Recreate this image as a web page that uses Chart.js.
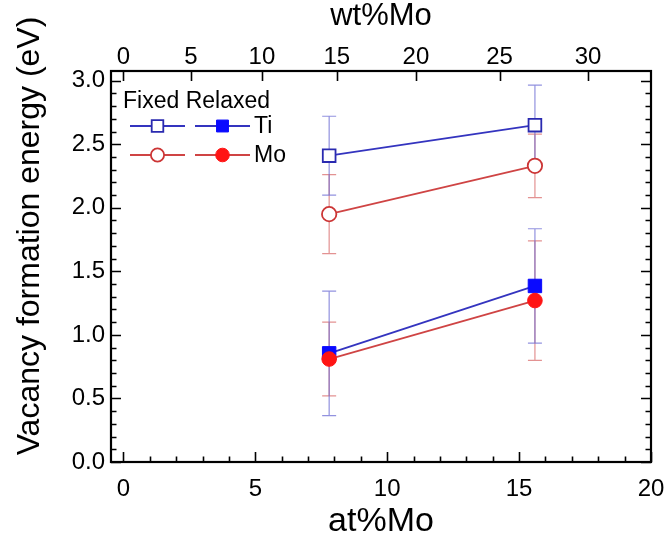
<!DOCTYPE html>
<html><head><meta charset="utf-8">
<script src="https://cdn.jsdelivr.net/npm/chart.js@4/dist/chart.umd.min.js"></script>
<style>html,body{margin:0;padding:0;background:#fff;overflow:hidden}</style>
</head><body>
<canvas id="c" width="666" height="537" style="width:666px;height:537px;display:block"></canvas>
<script>
// ---- data ----
const AT_MO = [7.8, 15.6];
const TI_FIXED = [2.41, 2.65];
const TI_FIXED_ERR = [0.31, 0.315];
const MO_FIXED = [1.95, 2.33];
const MO_FIXED_ERR = [0.31, 0.25];
const TI_RELAXED = [0.855, 1.385];
const TI_RELAXED_ERR = [0.49, 0.45];
const MO_RELAXED = [0.81, 1.27];
const MO_RELAXED_ERR = [0.29, 0.47];
// ---- tick labels ----
const AT_TICKS = [0, 5, 10, 15, 20];
const WT_TICKS = [0, 5, 10, 15, 20, 25, 30];
const Y_TICKS = [0.0, 0.5, 1.0, 1.5, 2.0, 2.5, 3.0];
const Y_TITLE = 'Vacancy formation energy (eV)';
// atomic masses for the wt% <-> at% relation of the top axis
const M_MO = 95.95, M_TI = 47.867;
function wtToAt(w){ const f = w/100; return 100*(f/M_MO)/(f/M_MO + (1-f)/M_TI); }

const F = "'Liberation Sans', Arial, sans-serif";
const BLUE_LINE = '#3434bf', RED_LINE = '#cf4444';
const BLUE_ERR = 'rgba(100,100,210,0.7)', RED_ERR = 'rgba(215,100,100,0.7)';

function pts(ys){ return AT_MO.map((x,i)=>({x:x, y:ys[i]})); }

const datasets = [
  {label:'Mo relaxed', data:pts(MO_RELAXED), err:MO_RELAXED_ERR, errColor:RED_ERR, borderColor:RED_LINE, borderWidth:1.8,
   pointStyle:'circle', pointRadius:7.3, pointBackgroundColor:'#ff1414', pointBorderColor:'#ff1414', pointBorderWidth:1},
  {label:'Ti relaxed', data:pts(TI_RELAXED), err:TI_RELAXED_ERR, errColor:BLUE_ERR, borderColor:BLUE_LINE, borderWidth:1.8,
   pointStyle:'rect', pointRadius:9.5, pointBackgroundColor:'#0a0aff', pointBorderColor:'#0a0aff', pointBorderWidth:1},
  {label:'Mo fixed', data:pts(MO_FIXED), err:MO_FIXED_ERR, errColor:RED_ERR, borderColor:RED_LINE, borderWidth:1.8,
   pointStyle:'circle', pointRadius:7.2, pointBackgroundColor:'#ffffff', pointBorderColor:'#cc3535', pointBorderWidth:1.8},
  {label:'Ti fixed', data:pts(TI_FIXED), err:TI_FIXED_ERR, errColor:BLUE_ERR, borderColor:BLUE_LINE, borderWidth:1.8,
   pointStyle:'rect', pointRadius:9.0, pointBackgroundColor:'#ffffff', pointBorderColor:'#2a2ab0', pointBorderWidth:1.8}
];

const errorBars = {
  id:'errorBars',
  beforeDatasetsDraw(chart){
    const {ctx, scales:{x, y}} = chart;
    ctx.save();
    ctx.lineWidth = 1.2;
    const order = [0,2,1,3]; // red first, blue on top
    order.forEach(di=>{
      const ds = chart.data.datasets[di];
      ctx.strokeStyle = ds.errColor;
      ds.data.forEach((p,i)=>{
        const px = x.getPixelForValue(p.x);
        const y1 = y.getPixelForValue(p.y + ds.err[i]);
        const y2 = y.getPixelForValue(p.y - ds.err[i]);
        ctx.beginPath();
        ctx.moveTo(px, y1); ctx.lineTo(px, y2);
        ctx.moveTo(px-7, y1); ctx.lineTo(px+7, y1);
        ctx.moveTo(px-7, y2); ctx.lineTo(px+7, y2);
        ctx.stroke();
      });
    });
    ctx.restore();
  }
};

const inwardTicks = {
  id:'inwardTicks',
  afterDraw(chart){
    const {ctx, chartArea:a, scales:{x, x2, y}} = chart;
    ctx.save();
    ctx.strokeStyle = '#000';
    ctx.lineWidth = 1.6;
    ctx.beginPath();
    for (let k = 0; k <= 30; k++){
      const py = Math.round(y.getPixelForValue(k/10)) + 0.5;
      const L = (k % 5 === 0) ? 10 : 5.5;
      ctx.moveTo(a.left, py); ctx.lineTo(a.left + L, py);
      ctx.moveTo(a.right, py); ctx.lineTo(a.right - L, py);
    }
    for (let k = 0; k <= 20; k++){
      const px = Math.round(x.getPixelForValue(k)) + 0.5;
      const L = (k % 5 === 0) ? 10 : 5.5;
      ctx.moveTo(px, a.bottom); ctx.lineTo(px, a.bottom - L);
    }
    x2.ticks.forEach(t=>{
      const px = Math.round(x2.getPixelForValue(t.value)) + 0.5;
      ctx.moveTo(px, a.top); ctx.lineTo(px, a.top + 10);
    });
    ctx.stroke();
    ctx.lineWidth = 2.2;
    ctx.strokeRect(a.left, a.top, a.right - a.left, a.bottom - a.top);
    ctx.restore();
  }
};

const yTitle = {
  id:'yTitle',
  afterDraw(chart){
    const {ctx} = chart;
    ctx.save();
    ctx.translate(30, 236);
    ctx.rotate(-Math.PI/2);
    ctx.fillStyle = '#000';
    ctx.font = "32px " + F;
    ctx.textAlign = 'center';
    ctx.textBaseline = 'middle';
    ctx.fillText(Y_TITLE, 0, 0);
    ctx.restore();
  }
};

const legendBox = {
  id:'legendBox',
  afterDraw(chart){
    const {ctx} = chart;
    const H = Chart.helpers;
    ctx.save();
    ctx.fillStyle = '#000';
    ctx.font = "23px " + F;
    ctx.textBaseline = 'middle';
    ctx.textAlign = 'left';
    ctx.fillText('Fixed Relaxed', 123, 102);
    const rows = [
      {y:126, color:BLUE_LINE, open:{pointStyle:'rect', radius:8.2, edge:'#2a2ab0'}, fill:{pointStyle:'rect', radius:8.4, c:'#0a0aff'}, text:'Ti'},
      {y:155, color:RED_LINE, open:{pointStyle:'circle', radius:6.6, edge:'#cc3535'}, fill:{pointStyle:'circle', radius:6.8, c:'#ff1414'}, text:'Mo'}
    ];
    rows.forEach(r=>{
      ctx.strokeStyle = r.color; ctx.lineWidth = 1.8;
      ctx.beginPath();
      ctx.moveTo(130, r.y); ctx.lineTo(185, r.y);
      ctx.moveTo(195, r.y); ctx.lineTo(250, r.y);
      ctx.stroke();
      ctx.fillStyle = '#fff'; ctx.strokeStyle = r.open.edge; ctx.lineWidth = 1.8;
      H.drawPoint(ctx, {pointStyle:r.open.pointStyle, radius:r.open.radius, rotation:0, borderWidth:1.8}, 157.5, r.y);
      ctx.fillStyle = r.fill.c; ctx.strokeStyle = r.fill.c; ctx.lineWidth = 1;
      H.drawPoint(ctx, {pointStyle:r.fill.pointStyle, radius:r.fill.radius, rotation:0, borderWidth:1}, 222.5, r.y);
      ctx.fillStyle = '#000';
      ctx.fillText(r.text, 254, r.y + 1);
    });
    ctx.restore();
  }
};

const X_MIN = -0.47, X_MAX = 20, Y_MIN = 0, Y_MAX = 3.076;
function noPad(s){ s.paddingLeft = 0; s.paddingRight = 0; s.paddingTop = 0; s.paddingBottom = 0; }

new Chart(document.getElementById('c'), {
  type:'line',
  data:{datasets:datasets},
  options:{
    responsive:false, animation:false, devicePixelRatio:1,
    layout:{autoPadding:false, padding:0},
    plugins:{legend:{display:false}, tooltip:{enabled:false}},
    elements:{line:{tension:0, fill:false}},
    scales:{
      x:{type:'linear', position:'bottom', min:X_MIN, max:X_MAX,
        afterBuildTicks:s=>{ s.ticks = AT_TICKS.map(v=>({value:v})); },
        ticks:{callback:(v)=>String(v), font:{size:24, family:F}, color:'#000', padding:13, maxRotation:0, autoSkip:false},
        grid:{display:false, drawTicks:false}, border:{display:false},
        title:{display:true, text:'at%Mo', color:'#000', font:{size:34, family:F, lineHeight:1}, padding:{top:0,bottom:-2}},
        afterFit:s=>{ s.height = 75; noPad(s); }},
      x2:{type:'linear', position:'top', min:X_MIN, max:X_MAX,
        afterBuildTicks:s=>{ s.ticks = WT_TICKS.map(w=>({value:wtToAt(w)})); },
        ticks:{callback:(v,i)=>String(WT_TICKS[i]), font:{size:24, family:F}, color:'#000', padding:-1, maxRotation:0, autoSkip:false},
        grid:{display:false, drawTicks:false}, border:{display:false},
        title:{display:true, text:'wt%Mo', color:'#000', font:{size:31, family:F, lineHeight:1}, padding:{top:1,bottom:0}},
        afterFit:s=>{ s.height = 71; noPad(s); }},
      y:{type:'linear', position:'left', min:Y_MIN, max:Y_MAX,
        afterBuildTicks:s=>{ s.ticks = Y_TICKS.map(v=>({value:v})); },
        ticks:{callback:(v)=>Number(v).toFixed(1), font:{size:24, family:F}, color:'#000', padding:6, autoSkip:false},
        grid:{display:false, drawTicks:false}, border:{display:false},
        title:{display:false},
        afterFit:s=>{ s.width = 111; noPad(s); }},
      y2:{type:'linear', position:'right', min:Y_MIN, max:Y_MAX,
        ticks:{display:false}, grid:{display:false, drawTicks:false}, border:{display:false},
        afterFit:s=>{ s.width = 15; noPad(s); }}
    }
  },
  plugins:[errorBars, inwardTicks, yTitle, legendBox]
});
</script>
</body></html>
